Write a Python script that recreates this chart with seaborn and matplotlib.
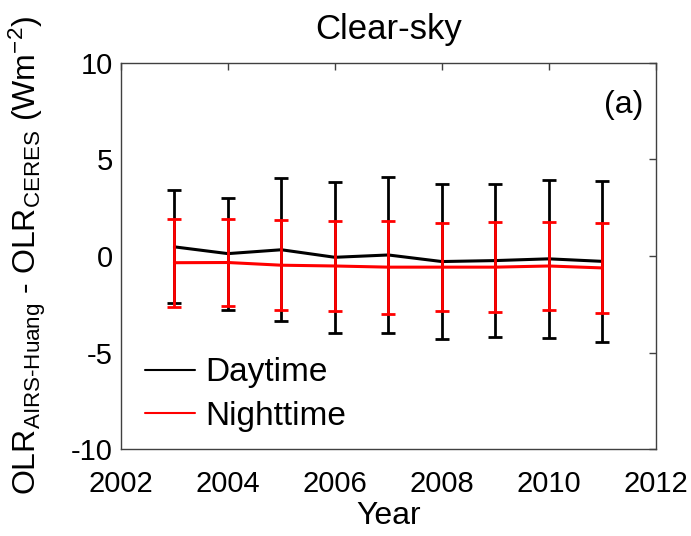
import numpy as np
import pandas as pd
import matplotlib
matplotlib.use("Agg")
import matplotlib.pyplot as plt
import seaborn as sns

years = [2003, 2004, 2005, 2006, 2007, 2008, 2009, 2010, 2011]
day_mean = [0.47, 0.12, 0.32, -0.07, 0.05, -0.29, -0.24, -0.15, -0.28]
day_err = [2.92, 2.90, 3.70, 3.90, 4.03, 4.00, 3.98, 4.08, 4.15]
night_mean = [-0.35, -0.34, -0.48, -0.52, -0.58, -0.58, -0.58, -0.52, -0.62]
night_err = [2.28, 2.24, 2.33, 2.33, 2.40, 2.28, 2.33, 2.30, 2.33]

sns.set_theme(style="white")
plt.rcParams['font.family'] = ['Liberation Sans', 'DejaVu Sans']
plt.rcParams['mathtext.fontset'] = 'custom'
plt.rcParams['mathtext.rm'] = 'Liberation Sans'
plt.rcParams['mathtext.it'] = 'Liberation Sans'
plt.rcParams['mathtext.default'] = 'regular'
plt.rcParams['axes.unicode_minus'] = False
plt.rcParams['text.color'] = 'black'
plt.rcParams['axes.labelcolor'] = 'black'

fig = plt.figure(figsize=(6.91, 5.36), dpi=100)
ax = fig.add_axes([0.175, 0.162, 0.774, 0.721])

df = pd.DataFrame({
    'Year': years * 2,
    'val': day_mean + night_mean,
    'series': ['Daytime'] * len(years) + ['Nighttime'] * len(years),
})

ax.errorbar(years, day_mean, yerr=day_err, fmt='none', ecolor='black',
            elinewidth=2, capsize=5, capthick=2, zorder=2)
sns.lineplot(data=df, x='Year', y='val', hue='series',
             palette={'Daytime': 'black', 'Nighttime': 'red'},
             linewidth=2.2, ax=ax, zorder=3)
ax.errorbar(years, night_mean, yerr=night_err, fmt='none', ecolor='red',
            elinewidth=2, capsize=5, capthick=2, zorder=4)

ax.set_xlim(2002, 2012)
ax.set_ylim(-10, 10)
ax.set_xticks([2002, 2004, 2006, 2008, 2010, 2012])
ax.set_yticks([-10, -5, 0, 5, 10])
ax.tick_params(direction='in', length=5, width=1, top=True, right=True,
               labelsize=21, colors='#404040', labelcolor='black')
ax.tick_params(axis='x', pad=15)
ax.tick_params(axis='y', pad=6)
for s in ax.spines.values():
    s.set_color('#404040')
    s.set_linewidth(1)

ax.set_xlabel('Year', fontsize=23, labelpad=2)
ax.set_ylabel(r'OLR$_{AIRS\text{-}Huang}$ - OLR$_{CERES}$ (Wm$^{-2}$)',
              fontsize=23, labelpad=16)
ax.set_title('Clear-sky', fontsize=25, pad=17)
ax.text(0.976, 0.89, '(a)', transform=ax.transAxes, ha='right', va='center',
        fontsize=23)

leg = ax.legend(loc='lower left', bbox_to_anchor=(0.02, 0.01), frameon=False,
                fontsize=24, handlelength=1.5, handletextpad=0.3,
                labelspacing=0.38, borderaxespad=0.0)
for h in leg.get_lines():
    h.set_linewidth(1.5)

fig.savefig('out.png', dpi=100)
